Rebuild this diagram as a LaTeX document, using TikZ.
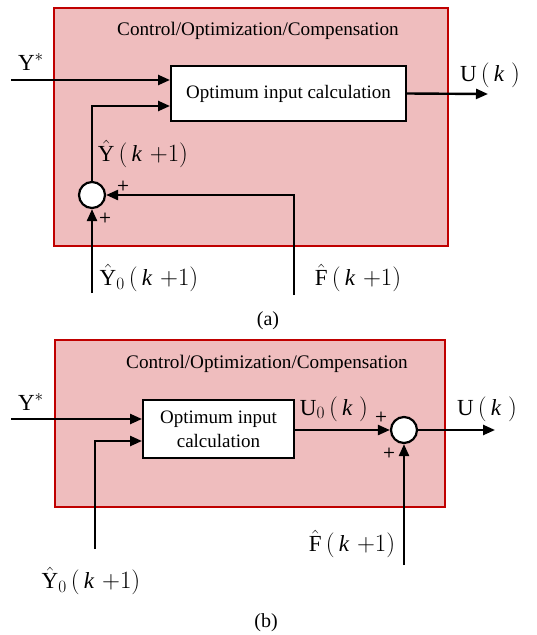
\documentclass[tikz,border=0pt]{standalone}
\usepackage{fontspec}
\setmainfont{Liberation Serif}
\usetikzlibrary{arrows.meta}
\definecolor{pinkfill}{RGB}{239,189,190}
\definecolor{boxred}{RGB}{192,0,0}
\newcommand{\kpo}{\,\bigl(\,\mathit{k}\hspace{0.35em}{+}1\bigr)}
\newcommand{\kko}{\,\bigl(\,\mathit{k}\;\bigr)}
\begin{document}
\begin{tikzpicture}[x=1pt,y=-1pt,
 container/.style={draw=boxred,fill=pinkfill,line width=1.6pt,inner sep=0},
 block/.style={draw=black,fill=white,line width=2pt,inner sep=0,align=center,font=\fontsize{19}{24}\selectfont},
 sumnode/.style={circle,draw=black,fill=white,line width=2.2pt,minimum size=26pt,inner sep=0},
 conn/.style={line width=2.4pt},
 arr/.style={conn,-{Triangle[length=12pt,width=10pt]}},
 title/.style={font=\fontsize{19.2}{21}\selectfont,inner sep=0},
 lbl/.style={font=\fontsize{23}{25}\selectfont,inner sep=0},
 sign/.style={font=\fontsize{14}{14}\selectfont\bfseries\sffamily,inner sep=0},
 captext/.style={font=\fontsize{20}{22}\selectfont,inner sep=0}
]
\useasboundingbox (0,0) rectangle (536,635);
% ---------- (a) ----------
\node[container,minimum width=394pt,minimum height=238pt] (ca) at (251,127) {};
\node[title] (ta) at (258,31) {Control/Optimization/Compensation};
\node[block,minimum width=235pt,minimum height=55pt] (ba) at (288.5,93.5) {Optimum input calculation};
\node[sumnode] (sa) at (92,195) {};
\coordinate (ya) at (11,80);
\coordinate (oa) at (488,94);
\coordinate (y0a) at (92,293);
\coordinate (fa) at (294,295);
\draw[arr] (ya) -- (ya -| ba.west);
\draw[arr] (ba.east) -- (oa);
\draw[arr] (sa.north) |- (ba.west |- 0,106);
\draw[arr] (fa) |- (sa.east);
\draw[arr] (y0a) -- (sa.south);
\node[lbl] (lya) at (31,62) {$\mathrm{Y}^{*}$};
\node[lbl] (lua) at (490,75) {$\mathrm{U}\kko$};
\node[lbl] (lyha) at (143,154) {$\hat{\mathrm{Y}}\kpo$};
\node[lbl] (lya0) at (149,278) {$\hat{\mathrm{Y}}_{0}\kpo$};
\node[lbl] (lfa) at (358,278) {$\hat{\mathrm{F}}\kpo$};
\node[sign] (pa1) at (123,186) {+};
\node[sign] (pa2) at (105,218) {+};
\node[captext] (capa) at (268,321) {(a)};
% ---------- (b) ----------
\node[container,minimum width=390pt,minimum height=167pt] (cb) at (250,423.5) {};
\node[title] (tb) at (267,364) {Control/Optimization/Compensation};
\node[block,minimum width=151pt,minimum height=58pt] (bb) at (218.5,429) {Optimum input\\calculation};
\node[sumnode] (sb) at (404,430) {};
\coordinate (yb) at (11,419);
\coordinate (ob) at (495,430);
\coordinate (y0b) at (95,549);
\coordinate (fb) at (404,565);
\draw[arr] (yb) -- (yb -| bb.west);
\draw[arr] (y0b) |- (bb.west |- 0,441);
\draw[arr] (bb.east |- sb.west) -- (sb.west);
\draw[arr] (sb.east) -- (ob);
\draw[arr] (fb) -- (sb.south);
\node[lbl] (lyb) at (31,402) {$\mathrm{Y}^{*}$};
\node[lbl] (lu0b) at (334,409) {$\mathrm{U}_{0}\kko$};
\node[lbl] (lub) at (487,409) {$\mathrm{U}\kko$};
\node[lbl] (lfb) at (352,544) {$\hat{\mathrm{F}}\kpo$};
\node[lbl] (ly0b) at (91,581) {$\hat{\mathrm{Y}}_{0}\kpo$};
\node[sign] (pb1) at (381,417) {+};
\node[sign] (pb2) at (389,453) {+};
\node[captext] (capb) at (266,623) {(b)};
\end{tikzpicture}
\end{document}
